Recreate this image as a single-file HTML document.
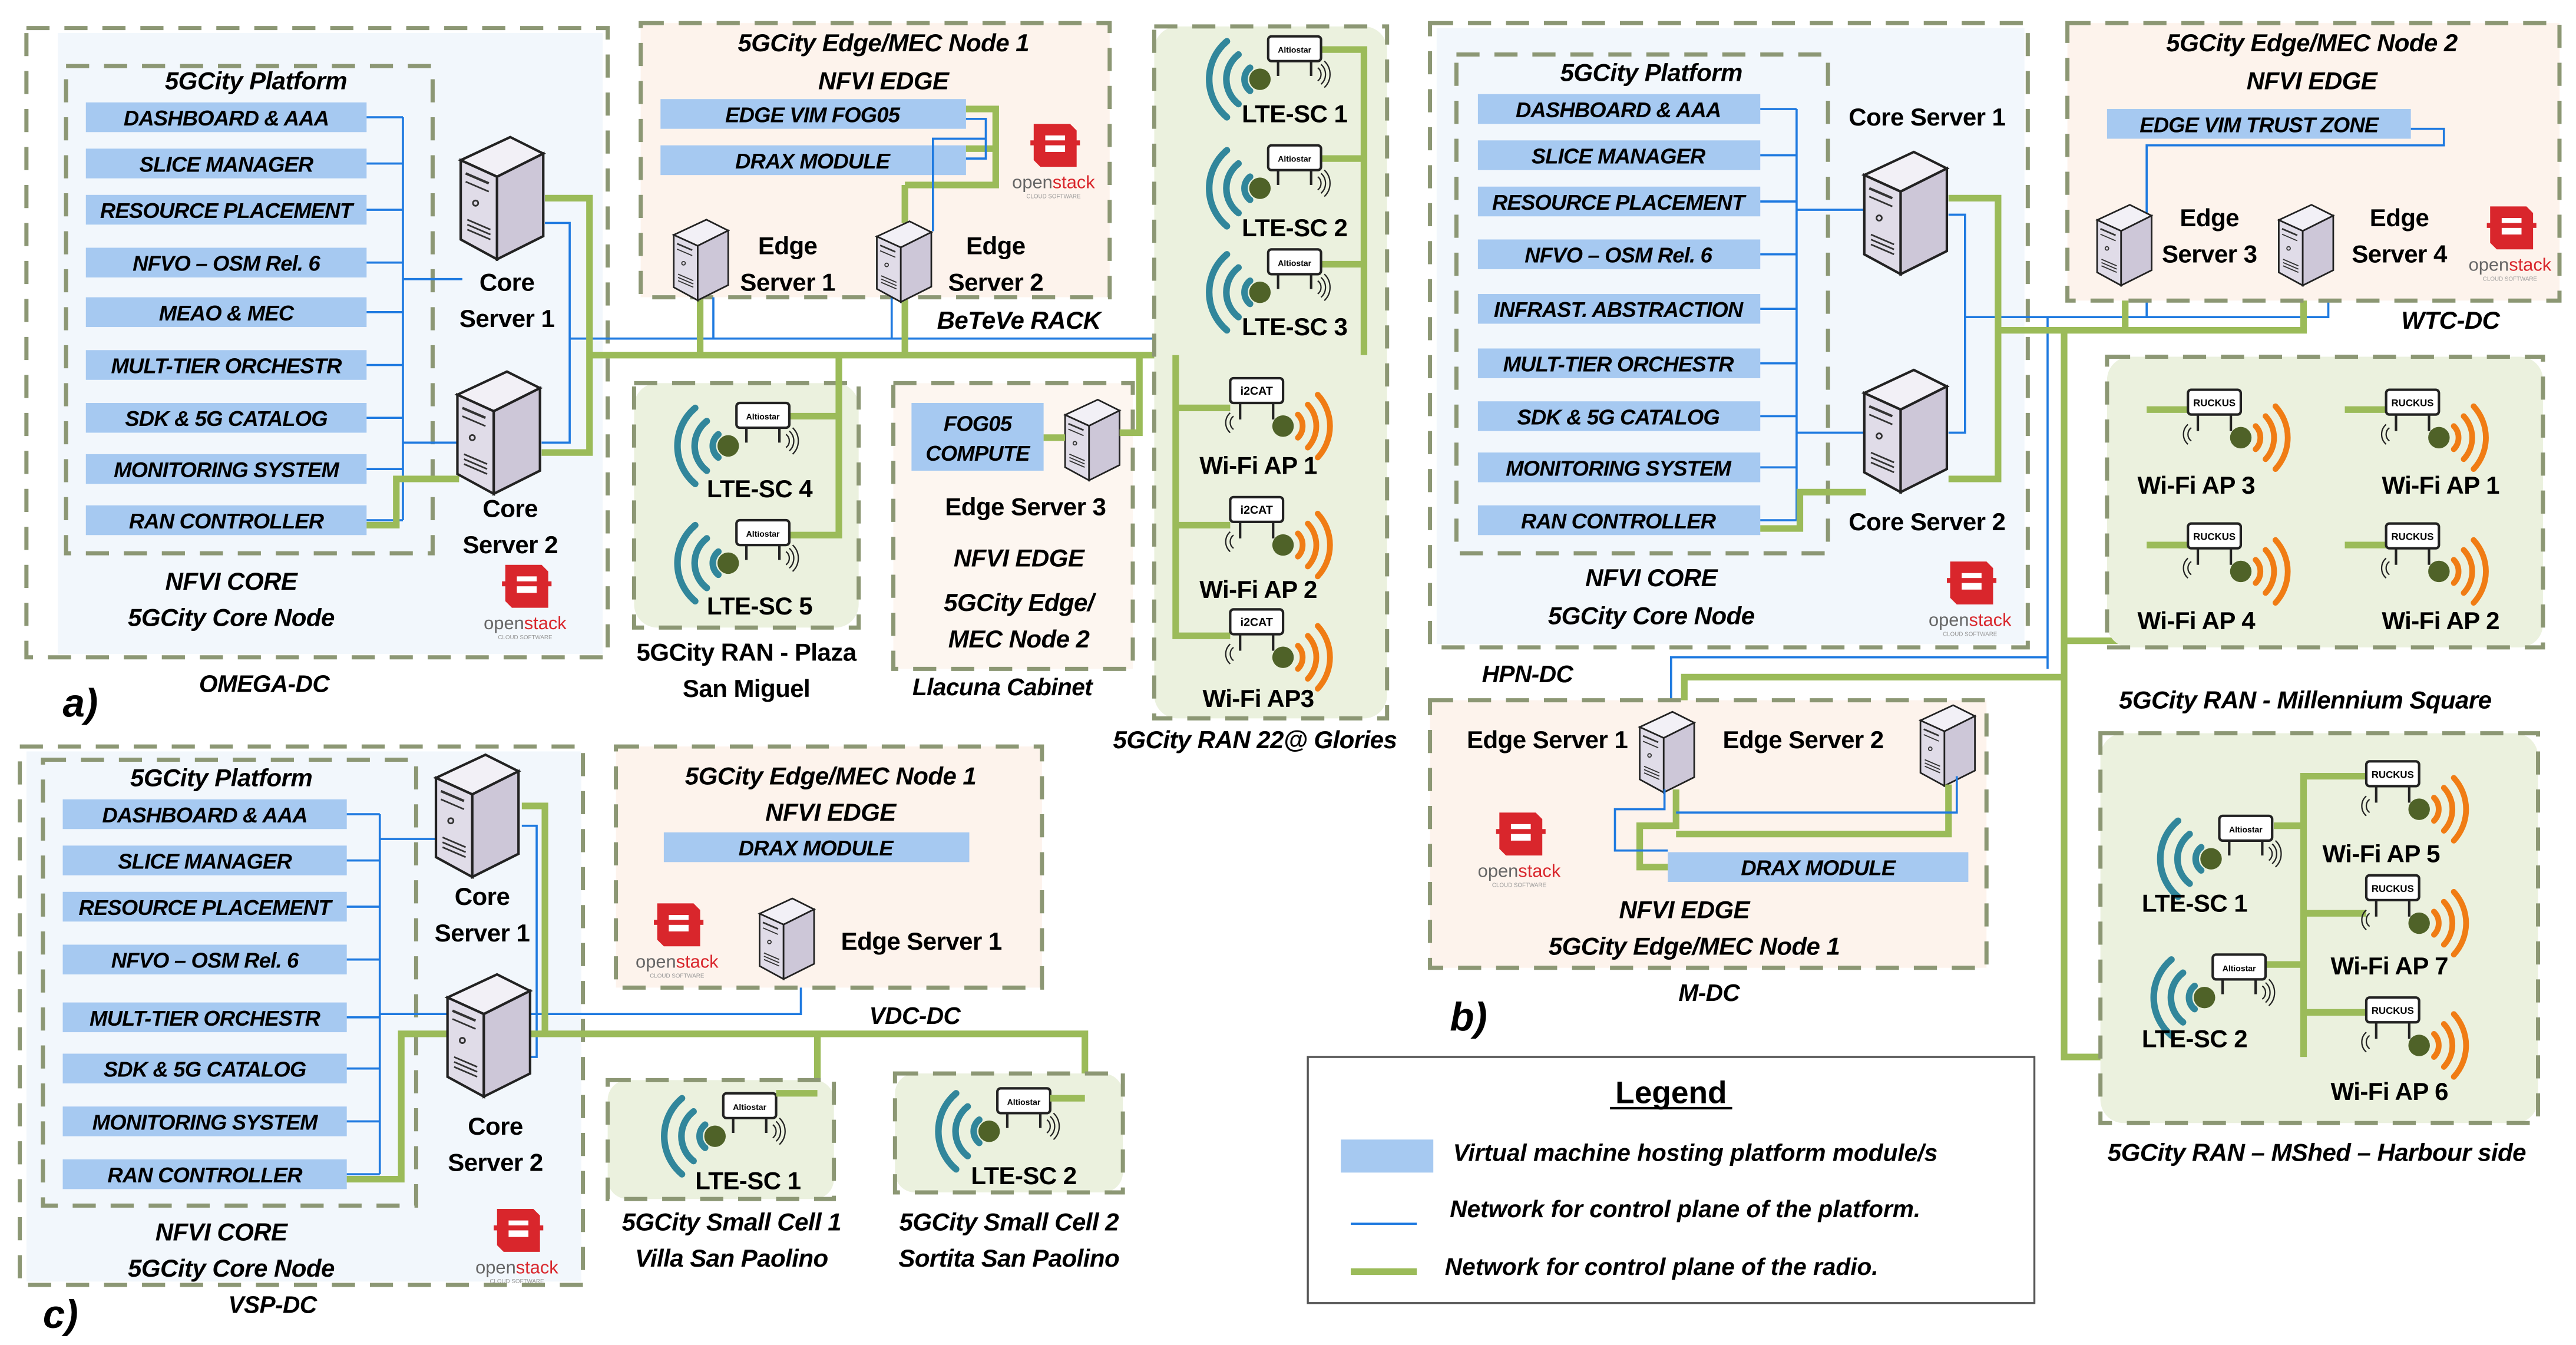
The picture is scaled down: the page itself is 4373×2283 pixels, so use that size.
<!DOCTYPE html>
<html><head><meta charset="utf-8"><style>
html,body{margin:0;padding:0;background:#fff}
svg{display:block}
text{font-family:"Liberation Sans",sans-serif;font-weight:bold;fill:#000}
.bt{font-size:13px;font-style:italic;text-anchor:middle;letter-spacing:-0.3px}
.lb{font-size:15px;text-anchor:middle;letter-spacing:-0.2px}
.it{font-size:15px;font-style:italic;text-anchor:middle;letter-spacing:-0.2px}
.dash{fill:none;stroke:#8c9774;stroke-width:2.5;stroke-dasharray:14 9}
.g{fill:none;stroke:#9bbb59;stroke-width:4}
.b{fill:none;stroke:#1f7ae0;stroke-width:1.3}
.bar{fill:#a6c9f1}
</style></head><body>
<svg width="4373" height="2283" viewBox="0 0 1560 814.4" preserveAspectRatio="none" xmlns="http://www.w3.org/2000/svg">
<defs>
<g id="srv">
<polygon points="0,14 30,0 50,10 22,24" fill="#f2f0f6" stroke="#222" stroke-width="1.5"/>
<polygon points="0,14 22,24 22,74 0,62" fill="#e0dce8" stroke="#222" stroke-width="1.5"/>
<polygon points="22,24 50,10 50,60 22,74" fill="#cdc7d8" stroke="#222" stroke-width="1.5"/>
<line x1="3" y1="22" x2="17" y2="28" stroke="#333" stroke-width="1.5"/>
<line x1="3" y1="27" x2="17" y2="33" stroke="#333" stroke-width="1"/>
<circle cx="9" cy="40" r="1.6" fill="none" stroke="#333"/>
<line x1="4" y1="50" x2="18" y2="56" stroke="#333"/><line x1="4" y1="53" x2="18" y2="59" stroke="#333"/><line x1="4" y1="56" x2="18" y2="62" stroke="#333"/>
</g>
<g id="lte">
<g fill="none" stroke="#31869b" stroke-width="4" stroke-linecap="round">
<path d="M-5,-7 A9 9 0 0 0 -5,7"/><path d="M-12,-15 A19 19 0 0 0 -12,15"/><path d="M-19,-23 A30 30 0 0 0 -19,23"/>
</g>
<circle cx="1" cy="0" r="6.5" fill="#4f6228"/>
<rect x="6" y="-26" width="32" height="15" rx="2" fill="#fff" stroke="#222" stroke-width="1.5"/>
<text x="22" y="-16" style="font-size:5px;text-anchor:middle">Altiostar</text>
<line x1="12" y1="-11" x2="12" y2="-2" stroke="#222" stroke-width="1.5"/><line x1="32" y1="-11" x2="32" y2="-2" stroke="#222" stroke-width="1.5"/>
<g fill="none" stroke="#222" stroke-width="0.8"><path d="M36,-7 A5 5 0 0 1 36,1"/><path d="M38,-9 A8 8 0 0 1 38,3"/><path d="M40,-11 A11 11 0 0 1 40,5"/></g>
</g>
<g id="wifiI">
<rect x="-32" y="-29" width="32" height="15" rx="2" fill="#fff" stroke="#222" stroke-width="1.5"/>
<text x="-16" y="-19" style="font-size:7px;text-anchor:middle">i2CAT</text>
<line x1="-26" y1="-14" x2="-26" y2="-4" stroke="#222" stroke-width="1.5"/><line x1="-6" y1="-14" x2="-6" y2="-4" stroke="#222" stroke-width="1.5"/>
<g fill="none" stroke="#222" stroke-width="0.8"><path d="M-30,-6 A5 5 0 0 0 -30,2"/><path d="M-32,-8 A8 8 0 0 0 -32,4"/></g>
<circle cx="0" cy="0" r="6.5" fill="#4f6228"/>
<g fill="none" stroke="#f07c14" stroke-width="3.5" stroke-linecap="round"><path d="M9,-7 A10 10 0 0 1 9,7"/><path d="M15,-13 A19 19 0 0 1 15,13"/><path d="M21,-19 A28 28 0 0 1 21,19"/></g>
</g>
<g id="wifiR">
<rect x="-32" y="-29" width="32" height="15" rx="2" fill="#fff" stroke="#222" stroke-width="1.5"/>
<text x="-16" y="-19" style="font-size:6px;text-anchor:middle">RUCKUS</text>
<line x1="-26" y1="-14" x2="-26" y2="-4" stroke="#222" stroke-width="1.5"/><line x1="-6" y1="-14" x2="-6" y2="-4" stroke="#222" stroke-width="1.5"/>
<g fill="none" stroke="#222" stroke-width="0.8"><path d="M-30,-6 A5 5 0 0 0 -30,2"/><path d="M-32,-8 A8 8 0 0 0 -32,4"/></g>
<circle cx="0" cy="0" r="6.5" fill="#4f6228"/>
<g fill="none" stroke="#f07c14" stroke-width="3.5" stroke-linecap="round"><path d="M9,-7 A10 10 0 0 1 9,7"/><path d="M15,-13 A19 19 0 0 1 15,13"/><path d="M21,-19 A28 28 0 0 1 21,19"/></g>
</g>
<g id="os">
<polygon points="-12,-20 10,-20 14,-16 14,6 -8,6 -12,2" fill="#d9262c"/>
<rect x="-5" y="-13" width="12" height="10" fill="#fff"/>
<rect x="-14" y="-10" width="30" height="3" fill="#d9262c"/>
<text x="0" y="19" style="font-size:11px;font-weight:normal;text-anchor:middle;fill:#666">open<tspan fill="#d9262c">stack</tspan></text>
<text x="0" y="25" style="font-size:3.5px;font-weight:normal;text-anchor:middle;fill:#999">CLOUD SOFTWARE</text>
</g>
</defs>

<!-- ================= PANEL A ================= -->
<rect x="35" y="20" width="330" height="376" fill="#f2f7fc"/>
<rect x="16" y="17" width="352" height="381" class="dash"/>
<rect x="40" y="40" width="222" height="295" class="dash"/>
<text x="155" y="54" class="it">5GCity Platform</text>
<g>
<rect x="52" y="62" width="170" height="18" class="bar"/><text x="137" y="76" class="bt">DASHBOARD &amp; AAA</text>
<rect x="52" y="90" width="170" height="18" class="bar"/><text x="137" y="104" class="bt">SLICE MANAGER</text>
<rect x="52" y="118" width="170" height="18" class="bar"/><text x="137" y="132" class="bt">RESOURCE PLACEMENT</text>
<rect x="52" y="150" width="170" height="18" class="bar"/><text x="137" y="164" class="bt">NFVO – OSM Rel. 6</text>
<rect x="52" y="180" width="170" height="18" class="bar"/><text x="137" y="194" class="bt">MEAO &amp; MEC</text>
<rect x="52" y="212" width="170" height="18" class="bar"/><text x="137" y="226" class="bt">MULT-TIER ORCHESTR</text>
<rect x="52" y="244" width="170" height="18" class="bar"/><text x="137" y="258" class="bt">SDK &amp; 5G CATALOG</text>
<rect x="52" y="275" width="170" height="18" class="bar"/><text x="137" y="289" class="bt">MONITORING SYSTEM</text>
<rect x="52" y="306" width="170" height="18" class="bar"/><text x="137" y="320" class="bt">RAN CONTROLLER</text>
</g>
<path class="b" d="M222,71H244M222,99H244M222,127H244M222,159H244M222,189H244M222,221H244M222,253H244M222,284H244M222,315H244M244,71V315M244,169H280M244,268H278M330,135H345V268H328M345,205H700"/>
<path class="g" d="M222,318H240V290H278M330,120H357V274H328M357,215H826"/>
<use href="#srv" x="279" y="83"/>
<use href="#srv" x="277" y="225"/>
<text x="307" y="176" class="lb">Core</text><text x="307" y="198" class="lb">Server 1</text>
<text x="309" y="313" class="lb">Core</text><text x="309" y="335" class="lb">Server 2</text>
<text x="140" y="357" class="it">NFVI CORE</text><text x="140" y="379" class="it">5GCity Core Node</text>
<use href="#os" x="318" y="362"/>
<text x="160" y="419" class="it" style="font-size:14.5px">OMEGA-DC</text>
<text x="38" y="434" style="font-size:24px;font-style:italic">a)</text>

<!-- Edge MEC Node 1 (BeTeVe) -->
<rect x="388" y="14" width="284" height="166" fill="#fdf3ec"/>
<rect x="388" y="14" width="284" height="166" class="dash"/>
<text x="535" y="31" class="it">5GCity Edge/MEC Node 1</text><text x="535" y="54" class="it">NFVI EDGE</text>
<rect x="400" y="60" width="185" height="18" class="bar"/><text x="492" y="74" class="bt">EDGE VIM FOG05</text>
<rect x="400" y="88" width="185" height="18" class="bar"/><text x="492" y="102" class="bt">DRAX MODULE</text>
<path class="g" d="M585,66H603V112H548M548,112V135M603,90H585"/>
<path class="b" d="M585,72H597V96H585M597,84H565V140"/>
<path class="g" d="M424,180V215M548,180V215"/>
<path class="b" d="M432,180V205M540,180V205"/>
<use href="#srv" x="408" y="133" transform="translate(408 133) scale(0.66) translate(-408 -133)"/>
<use href="#srv" x="531" y="134" transform="translate(531 134) scale(0.66) translate(-531 -134)"/>
<text x="477" y="154" class="lb">Edge</text><text x="477" y="176" class="lb">Server 1</text>
<text x="603" y="154" class="lb">Edge</text><text x="603" y="176" class="lb">Server 2</text>
<use href="#os" x="638" y="95"/>
<text x="617" y="199" class="it">BeTeVe RACK</text>

<!-- Plaza San Miguel -->
<rect x="384" y="232" width="136" height="148" rx="14" fill="#ebf1de"/>
<rect x="384" y="232" width="136" height="148" class="dash"/>
<path class="g" d="M508,215V326M478,252H508M478,324H508"/>
<use href="#lte" x="440" y="270"/>
<use href="#lte" x="440" y="341"/>
<text x="460" y="301" class="lb">LTE-SC 4</text><text x="460" y="372" class="lb">LTE-SC 5</text>
<text x="452" y="400" class="lb">5GCity RAN - Plaza</text><text x="452" y="422" class="lb">San Miguel</text>

<!-- Llacuna -->
<rect x="541" y="232" width="145" height="173" fill="#fdf6f0"/>
<rect x="541" y="232" width="145" height="173" class="dash"/>
<rect x="552" y="244" width="80" height="41" class="bar"/>
<text x="592" y="261" class="bt">FOG05</text><text x="592" y="279" class="bt">COMPUTE</text>
<use href="#srv" x="645" y="242" transform="translate(645 242) scale(0.66) translate(-645 -242)"/>
<path class="g" d="M632,265H645M678,262H690V215"/>
<text x="621" y="312" class="lb">Edge Server 3</text>
<text x="617" y="343" class="it">NFVI EDGE</text><text x="617" y="370" class="it">5GCity Edge/</text><text x="617" y="392" class="it">MEC Node 2</text>
<text x="607" y="421" class="it" style="font-size:14.5px">Llacuna Cabinet</text>

<!-- Glories -->
<rect x="699" y="16" width="141" height="419" rx="14" fill="#ebf1de"/>
<rect x="699" y="16" width="141" height="419" class="dash"/>
<path class="g" d="M780,30H826V215M780,96H826M780,160H826M712,215V385H745M712,247H745M712,318H745"/>
<use href="#lte" x="762" y="48"/><use href="#lte" x="762" y="114"/><use href="#lte" x="762" y="177"/>
<text x="784" y="74" class="lb">LTE-SC 1</text><text x="784" y="143" class="lb">LTE-SC 2</text><text x="784" y="203" class="lb">LTE-SC 3</text>
<use href="#wifiI" x="777" y="258"/><use href="#wifiI" x="777" y="330"/><use href="#wifiI" x="777" y="398"/>
<text x="762" y="287" class="lb">Wi-Fi AP 1</text><text x="762" y="362" class="lb">Wi-Fi AP 2</text><text x="762" y="428" class="lb">Wi-Fi AP3</text>
<text x="760" y="453" class="it">5GCity RAN 22@ Glories</text>

<!-- ================= PANEL B ================= -->
<rect x="870" y="17" width="356" height="373" fill="#f2f7fc"/>
<rect x="866" y="14" width="362" height="378" class="dash"/>
<rect x="882" y="33" width="225" height="302" class="dash"/>
<text x="1000" y="49" class="it">5GCity Platform</text>
<g>
<rect x="895" y="57" width="171" height="18" class="bar"/><text x="980" y="71" class="bt">DASHBOARD &amp; AAA</text>
<rect x="895" y="85" width="171" height="18" class="bar"/><text x="980" y="99" class="bt">SLICE MANAGER</text>
<rect x="895" y="113" width="171" height="18" class="bar"/><text x="980" y="127" class="bt">RESOURCE PLACEMENT</text>
<rect x="895" y="145" width="171" height="18" class="bar"/><text x="980" y="159" class="bt">NFVO – OSM Rel. 6</text>
<rect x="895" y="178" width="171" height="18" class="bar"/><text x="980" y="192" class="bt">INFRAST. ABSTRACTION</text>
<rect x="895" y="211" width="171" height="18" class="bar"/><text x="980" y="225" class="bt">MULT-TIER ORCHESTR</text>
<rect x="895" y="243" width="171" height="18" class="bar"/><text x="980" y="257" class="bt">SDK &amp; 5G CATALOG</text>
<rect x="895" y="274" width="171" height="18" class="bar"/><text x="980" y="288" class="bt">MONITORING SYSTEM</text>
<rect x="895" y="306" width="171" height="18" class="bar"/><text x="980" y="320" class="bt">RAN CONTROLLER</text>
</g>
<path class="b" d="M1066,66H1088M1066,94H1088M1066,122H1088M1066,154H1088M1066,187H1088M1066,220H1088M1066,252H1088M1066,283H1088M1066,315H1088M1088,66V315M1088,127H1130M1088,262H1130M1180,130H1190V262H1180M1190,192H1300V172M1300,192H1410V172M1240,192V398H1012V470M1240,398V405"/>
<path class="g" d="M1066,320H1090V298H1130M1180,120H1210V290H1180M1210,200H1395V172M1287,200V172M1250,200V640H1395M1250,388H1420M1300,248V388M1420,248V388M1250,410H1020V435M1460,75H1497V95H1420V130"/>
<use href="#srv" x="1129" y="92"/><use href="#srv" x="1129" y="224"/>
<text x="1167" y="76" class="lb">Core Server 1</text><text x="1167" y="321" class="lb">Core Server 2</text>
<text x="1000" y="355" class="it">NFVI CORE</text><text x="1000" y="378" class="it">5GCity Core Node</text>
<use href="#os" x="1193" y="360"/>
<text x="925" y="413" class="it" style="font-size:14.5px">HPN-DC</text>

<!-- WTC -->
<rect x="1252" y="14" width="298" height="168" fill="#fdf3ec"/>
<rect x="1252" y="14" width="298" height="168" class="dash"/>
<text x="1400" y="31" class="it">5GCity Edge/MEC Node 2</text><text x="1400" y="54" class="it">NFVI EDGE</text>
<rect x="1276" y="66" width="184" height="18" class="bar"/><text x="1368" y="80" class="bt">EDGE VIM TRUST ZONE</text>
<path class="b" d="M1460,78H1480V88H1300V130"/>
<use href="#srv" x="1270" y="124" transform="translate(1270 124) scale(0.66) translate(-1270 -124)"/>
<use href="#srv" x="1380" y="124" transform="translate(1380 124) scale(0.66) translate(-1380 -124)"/>
<text x="1338" y="137" class="lb">Edge</text><text x="1338" y="159" class="lb">Server 3</text>
<text x="1453" y="137" class="lb">Edge</text><text x="1453" y="159" class="lb">Server 4</text>
<use href="#os" x="1520" y="145"/>
<text x="1484" y="199" class="it">WTC-DC</text>

<!-- Millennium -->
<rect x="1276" y="216" width="264" height="176" rx="14" fill="#ebf1de"/>
<rect x="1276" y="216" width="264" height="176" class="dash"/>
<path class="g" d="M1300,248H1325M1300,330H1325M1420,248H1445M1420,330H1445"/>
<use href="#wifiR" x="1357" y="265"/><use href="#wifiR" x="1477" y="265"/>
<use href="#wifiR" x="1357" y="346"/><use href="#wifiR" x="1477" y="346"/>
<text x="1330" y="299" class="lb">Wi-Fi AP 3</text><text x="1478" y="299" class="lb">Wi-Fi AP 1</text>
<text x="1330" y="381" class="lb">Wi-Fi AP 4</text><text x="1478" y="381" class="lb">Wi-Fi AP 2</text>
<text x="1396" y="429" class="it">5GCity RAN - Millennium Square</text>

<!-- M-DC -->
<rect x="866" y="424" width="337" height="162" fill="#fdf3ec"/>
<rect x="866" y="424" width="337" height="162" class="dash"/>
<text x="937" y="453" class="lb">Edge Server 1</text><text x="1092" y="453" class="lb">Edge Server 2</text>
<use href="#srv" x="993" y="431" transform="translate(993 431) scale(0.66) translate(-993 -431)"/>
<use href="#srv" x="1163" y="427" transform="translate(1163 427) scale(0.66) translate(-1163 -427)"/>
<rect x="1010" y="516" width="182" height="18" class="bar"/><text x="1101" y="530" class="bt">DRAX MODULE</text>
<path class="g" d="M1015,478V500H993V525H1010M1180,475V505H1015"/>
<path class="b" d="M1008,478V490H978V515H1010M1185,470V492H1015"/>
<use href="#os" x="920" y="512"/>
<text x="1020" y="556" class="it">NFVI EDGE</text><text x="1026" y="578" class="it">5GCity Edge/MEC Node 1</text>
<text x="1035" y="606" class="it" style="font-size:14.5px">M-DC</text>
<text x="878" y="624" style="font-size:24px;font-style:italic">b)</text>

<!-- MShed -->
<rect x="1272" y="444" width="265" height="236" rx="14" fill="#ebf1de"/>
<rect x="1272" y="444" width="265" height="236" class="dash"/>
<path class="g" d="M1395,468V640M1395,470H1433M1377,500H1395M1395,553H1433M1372,584H1395M1395,613H1433"/>
<use href="#lte" x="1338" y="520"/><use href="#lte" x="1334" y="604"/>
<text x="1329" y="552" class="lb">LTE-SC 1</text><text x="1329" y="634" class="lb">LTE-SC 2</text>
<use href="#wifiR" x="1465" y="490"/><use href="#wifiR" x="1465" y="559"/><use href="#wifiR" x="1465" y="633"/>
<text x="1442" y="522" class="lb">Wi-Fi AP 5</text><text x="1447" y="590" class="lb">Wi-Fi AP 7</text><text x="1447" y="666" class="lb">Wi-Fi AP 6</text>
<text x="1403" y="703" class="it">5GCity RAN – MShed – Harbour side</text>

<!-- Legend -->
<rect x="792" y="640" width="440" height="149" fill="#fff" stroke="#555" stroke-width="1.2"/>
<text x="1012" y="668" style="font-size:19px;text-anchor:middle">Legend</text>
<line x1="975" y1="671" x2="1049" y2="671" stroke="#000" stroke-width="1.5"/>
<rect x="812" y="690" width="56" height="20" class="bar"/>
<text x="880" y="703" style="font-size:14.5px;font-style:italic">Virtual machine hosting platform module/s</text>
<line x1="818" y1="741" x2="858" y2="741" class="b"/>
<text x="878" y="737" style="font-size:14.5px;font-style:italic">Network for control plane of the platform.</text>
<line x1="818" y1="770" x2="858" y2="770" class="g"/>
<text x="875" y="772" style="font-size:14.5px;font-style:italic">Network for control plane of the radio.</text>

<!-- ================= PANEL C ================= -->
<rect x="16" y="455" width="336" height="321" fill="#f2f7fc"/>
<rect x="12" y="452" width="341" height="326" class="dash"/>
<rect x="26" y="460" width="226" height="270" class="dash"/>
<text x="134" y="476" class="it">5GCity Platform</text>
<g>
<rect x="38" y="484" width="172" height="18" class="bar"/><text x="124" y="498" class="bt">DASHBOARD &amp; AAA</text>
<rect x="38" y="512" width="172" height="18" class="bar"/><text x="124" y="526" class="bt">SLICE MANAGER</text>
<rect x="38" y="540" width="172" height="18" class="bar"/><text x="124" y="554" class="bt">RESOURCE PLACEMENT</text>
<rect x="38" y="572" width="172" height="18" class="bar"/><text x="124" y="586" class="bt">NFVO – OSM Rel. 6</text>
<rect x="38" y="607" width="172" height="18" class="bar"/><text x="124" y="621" class="bt">MULT-TIER ORCHESTR</text>
<rect x="38" y="638" width="172" height="18" class="bar"/><text x="124" y="652" class="bt">SDK &amp; 5G CATALOG</text>
<rect x="38" y="670" width="172" height="18" class="bar"/><text x="124" y="684" class="bt">MONITORING SYSTEM</text>
<rect x="38" y="702" width="172" height="18" class="bar"/><text x="124" y="716" class="bt">RAN CONTROLLER</text>
</g>
<path class="b" d="M210,493H230M210,521H230M210,549H230M210,581H230M210,616H230M210,647H230M210,679H230M210,711H230M230,493V711M230,508H265M230,614H485V590M316,500H325V640H320"/>
<path class="g" d="M210,714H243V626H657V665M316,488H330V626M495,626V662M587,508H622V535H494"/>
<use href="#srv" x="264" y="457"/><use href="#srv" x="271" y="590"/>
<text x="292" y="548" class="lb">Core</text><text x="292" y="570" class="lb">Server 1</text>
<text x="300" y="687" class="lb">Core</text><text x="300" y="709" class="lb">Server 2</text>
<text x="134" y="751" class="it">NFVI CORE</text><text x="140" y="773" class="it">5GCity Core Node</text>
<text x="165" y="795" class="it" style="font-size:14.5px">VSP-DC</text>
<use href="#os" x="313" y="752"/>
<text x="26" y="804" style="font-size:24px;font-style:italic">c)</text>

<rect x="373" y="452" width="258" height="146" fill="#fdf3ec"/>
<rect x="373" y="452" width="258" height="146" class="dash"/>
<text x="503" y="475" class="it">5GCity Edge/MEC Node 1</text><text x="503" y="497" class="it">NFVI EDGE</text>
<rect x="402" y="504" width="185" height="18" class="bar"/><text x="494" y="518" class="bt">DRAX MODULE</text>
<use href="#os" x="410" y="567"/>
<use href="#srv" x="460" y="544" transform="translate(460 544) scale(0.66) translate(-460 -544)"/>
<text x="558" y="575" class="lb">Edge Server 1</text>
<text x="554" y="620" class="it" style="font-size:14.5px">VDC-DC</text>

<rect x="368" y="654" width="137" height="72" rx="12" fill="#ebf1de"/>
<rect x="368" y="654" width="137" height="72" class="dash"/>
<use href="#lte" x="432" y="688"/>
<text x="453" y="720" class="lb">LTE-SC 1</text>
<path class="g" d="M470,662H495"/>
<text x="443" y="745" class="it">5GCity Small Cell 1</text><text x="443" y="767" class="it">Villa San Paolino</text>

<rect x="542" y="650" width="138" height="72" rx="12" fill="#ebf1de"/>
<rect x="542" y="650" width="138" height="72" class="dash"/>
<use href="#lte" x="598" y="685"/>
<text x="620" y="717" class="lb">LTE-SC 2</text>
<path class="g" d="M636,665H657"/>
<text x="611" y="745" class="it">5GCity Small Cell 2</text><text x="611" y="767" class="it">Sortita San Paolino</text>
</svg>
</body></html>
